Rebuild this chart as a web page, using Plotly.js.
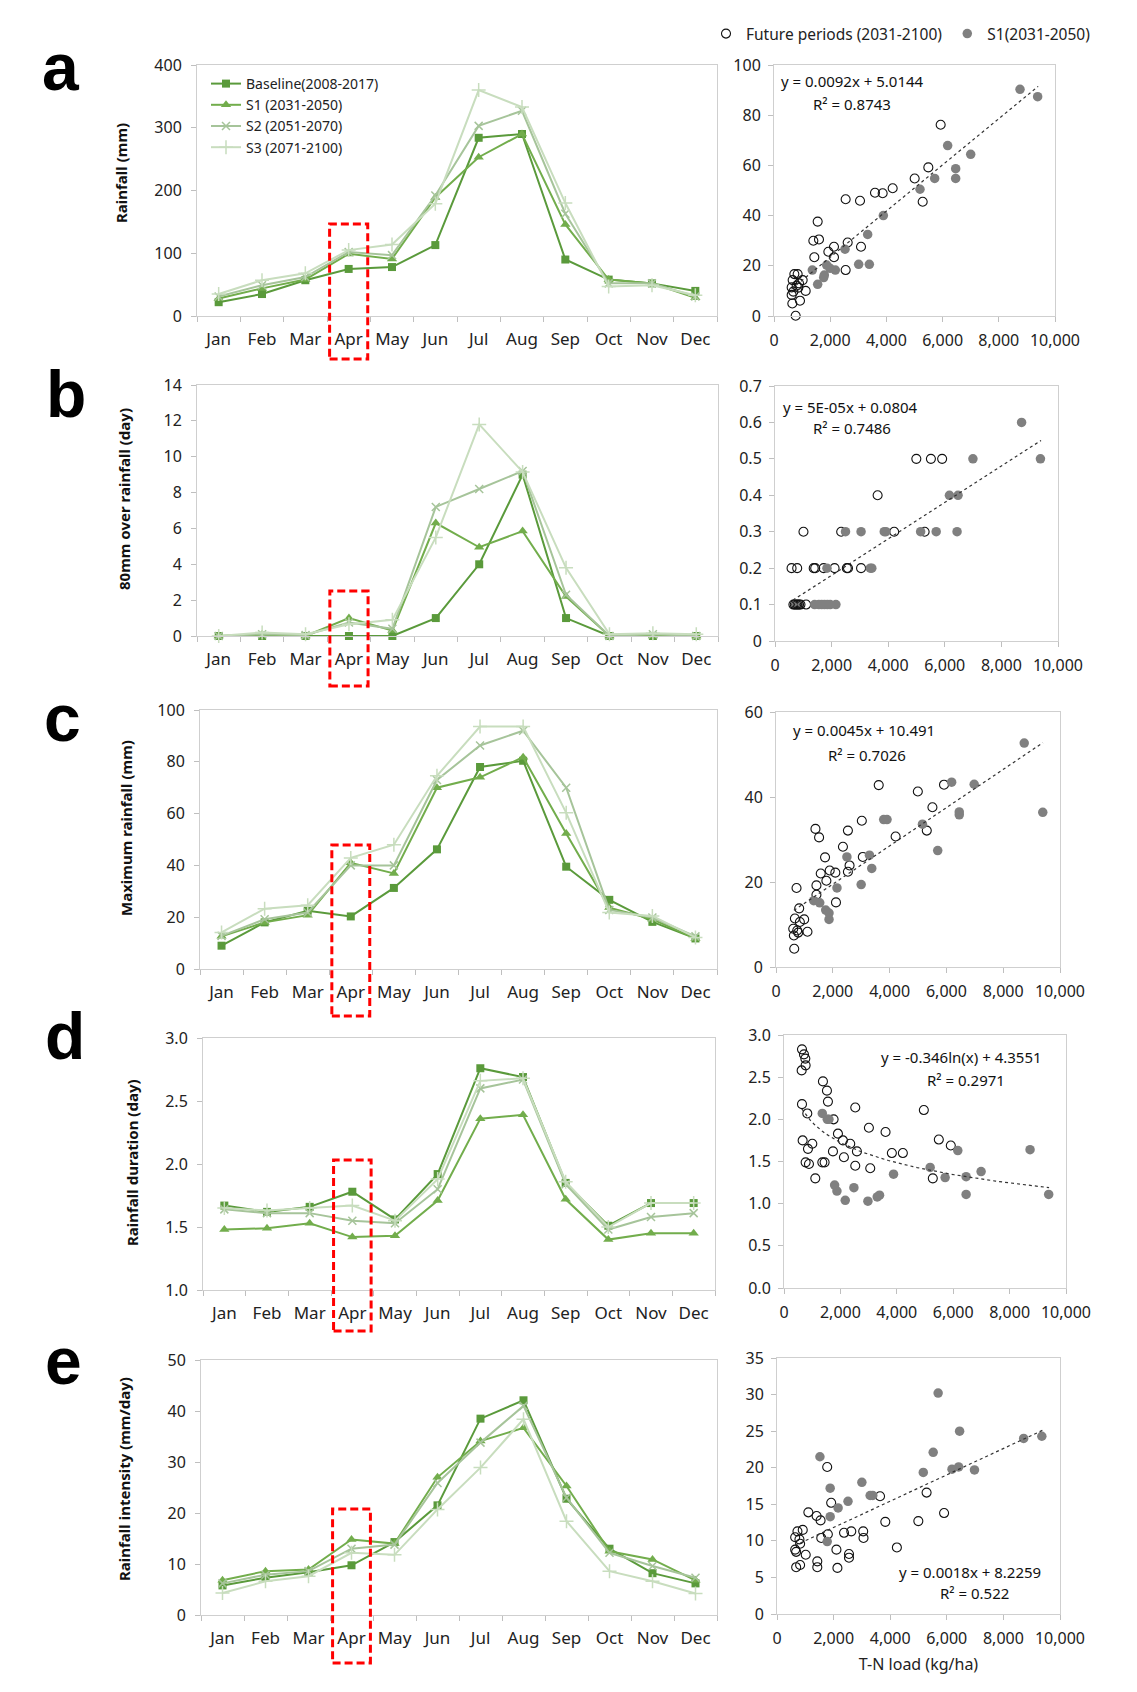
<!DOCTYPE html>
<html><head><meta charset="utf-8">
<script src="https://cdn.plot.ly/plotly-3.0.1.min.js"></script>
<style>html,body{margin:0;padding:0;background:#fff;} #chart{width:1137px;height:1692px;}</style>
</head><body><div id="chart"></div>
<script>
// ---------------- DATA ----------------
const months = ['Jan','Feb','Mar','Apr','May','Jun','Jul','Aug','Sep','Oct','Nov','Dec'];
const seriesNames = ['Baseline(2008-2017)','S1 (2031-2050)','S2 (2051-2070)','S3 (2071-2100)'];

// a: Rainfall (mm)
const aBase = [22,35,57,75,78,113,284,290,90,58,52,40];
const aS1   = [28,44,58,99,91,189,253,290,146,58,52,29];
const aS2   = [31,49,62,102,97,192,303,327,163,52,52,31];
const aS3   = [35,57,68,105,114,179,360,333,180,47,49,33];
// b: 80mm over rainfall (day)
const bBase = [0,0,0,0,0,1.0,4.0,9.0,1.0,0,0,0];
const bS1   = [0,0.1,0,1.0,0.3,6.3,4.95,5.85,2.2,0,0,0];
const bS2   = [0,0.1,0.05,0.75,0.4,7.2,8.2,9.2,2.3,0,0.1,0];
const bS3   = [0,0.2,0.1,0.65,0.9,5.5,11.8,9.15,3.8,0.1,0.15,0.1];
// c: Maximum rainfall (mm)
const cBase = [9.0,18.0,22.5,20.3,31.3,46.2,78.0,80.4,39.5,26.7,18.2,11.8];
const cS1   = [12.6,18.0,20.8,41.0,36.9,70.0,74.0,81.8,52.3,23.7,19.2,11.8];
const cS2   = [12.8,19.2,21.8,40.0,40.0,73.0,86.3,92.0,70.0,22.8,19.9,12.6];
const cS3   = [14.1,23.3,24.6,42.9,48.0,74.6,93.6,93.6,60.3,21.8,20.5,12.2];
// d: Rainfall duration (day)
const dBase = [1.67,1.62,1.66,1.78,1.56,1.92,2.76,2.69,1.85,1.51,1.69,1.69];
const dS1   = [1.48,1.49,1.53,1.42,1.43,1.71,2.36,2.39,1.72,1.40,1.45,1.45];
const dS2   = [1.64,1.61,1.61,1.55,1.53,1.80,2.60,2.67,1.84,1.48,1.58,1.61];
const dS3   = [1.65,1.63,1.65,1.67,1.55,1.88,2.66,2.68,1.86,1.50,1.69,1.69];
// e: Rainfall intensity (mm/day)
const eBase = [5.8,7.3,8.4,9.75,14.3,21.5,38.5,42.1,22.8,13.0,8.2,6.2];
const eS1   = [6.8,8.6,8.9,14.8,14.0,27.0,34.1,36.7,25.3,12.5,10.9,6.8];
const eS2   = [6.2,7.9,8.6,13.0,13.8,25.9,33.8,41.0,23.0,12.2,9.6,7.3];
const eS3   = [4.3,6.6,7.6,12.2,11.8,20.7,28.9,38.4,18.4,8.6,6.6,4.2];

// scatter: T-N load (kg/ha) vs indicator; open = future periods, filled = S1
const aOpenX = [5931,5492,5006,5291,4223,3867,3594,3061,2550,3096,2622,2550,2135,2135,1934,1554,1601,1400,1435,1127,925,1020,842,724,664,807,866,629,688,629,652,771,890];
const aOpenY = [76.2,59.2,54.8,45.5,50.9,48.9,49.1,45.9,46.5,27.6,29.3,18.3,27.6,23.4,25.6,37.6,30.5,30.0,23.4,10.0,6.1,14.3,16.7,16.7,14.3,12.1,11.3,11.4,9.7,8.4,5.0,0.1,13.0];
const aS1X = [8755,9383,6180,7000,6465,6465,5718,5196,3891,3333,2527,3393,3013,2183,1874,1791,1768,1554,1364,1993];
const aS1Y = [90.3,87.4,67.9,64.4,58.7,54.8,54.8,50.5,40.0,32.5,26.6,20.6,20.6,18.3,20.3,16.3,15.3,12.6,18.3,19.0];

const bOpenX = [4994,5509,5906,3626,1006,2339,4211,5287,585,784,1368,1420,1719,2105,2538,2580,3041,650,700,750,800,850,900,1100];
const bOpenY = [0.5,0.5,0.5,0.4,0.3,0.3,0.3,0.3,0.2,0.2,0.2,0.2,0.2,0.2,0.2,0.2,0.2,0.1,0.1,0.1,0.1,0.1,0.1,0.1];
const bS1X = [8713,9380,6994,6164,6468,6433,5696,5146,3860,3920,3041,2491,3368,3420,1836,2152,1400,1550,1650,1750,1850,1950];
const bS1Y = [0.6,0.5,0.5,0.4,0.4,0.3,0.3,0.3,0.3,0.3,0.3,0.3,0.2,0.2,0.2,0.1,0.1,0.1,0.1,0.1,0.1,0.1];

const cOpenX = [3617,4994,5916,5508,5309,4212,3022,2532,1389,1517,2357,1727,3057,2590,2532,1890,1575,2089,1774,1424,1424,723,2112,817,665,992,840,607,747,1108,630,782,642];
const cOpenY = [42.8,41.3,42.9,37.6,32.1,30.7,34.4,32.1,32.5,30.5,28.3,25.8,25.9,23.9,22.4,22.7,22.0,22.2,20.3,19.2,17.0,18.6,15.2,13.8,11.4,11.2,10.6,9.0,8.6,8.3,7.4,8.1,4.3];
const cS1X = [8740,9393,6184,6978,6453,6453,5694,5158,3792,3909,3291,3372,2497,2999,2147,1330,1540,1750,1867,1867];
const cS1Y = [52.7,36.4,43.5,43.0,36.5,35.8,27.4,33.6,34.7,34.7,26.3,23.2,25.9,19.4,18.6,15.6,15.1,13.4,12.7,11.2];

const dOpenX = [638,708,756,767,626,1381,1523,1558,638,826,1759,2527,4959,3011,3601,1913,2090,2349,5490,5915,661,1004,850,1736,2586,3825,4215,767,885,1358,1440,2125,2527,3058,1110,5277];
const dOpenY = [2.83,2.77,2.72,2.64,2.58,2.45,2.34,2.21,2.18,2.07,2.00,2.14,2.11,1.90,1.85,1.83,1.75,1.71,1.76,1.69,1.75,1.71,1.65,1.62,1.62,1.60,1.60,1.49,1.47,1.49,1.49,1.55,1.45,1.42,1.30,1.30];
const dS1X = [8725,9386,6163,6989,6458,6458,5714,5183,3884,3388,3306,2975,2479,2172,1877,1795,1358,1535,1594];
const dS1Y = [1.64,1.11,1.63,1.38,1.32,1.11,1.31,1.43,1.35,1.10,1.08,1.03,1.19,1.04,1.15,1.22,2.07,2.00,2.00];

const eOpenX = [1774,1914,3641,5286,5904,4994,3827,1108,1400,1540,910,723,642,793,817,1564,1797,2369,2625,3046,3057,1015,2100,642,677,2544,2544,4236,1424,1424,817,677,2135];
const eOpenY = [20.1,15.2,16.1,16.6,13.8,12.7,12.6,13.9,13.4,12.8,11.5,11.3,10.5,10.2,9.6,10.4,10.9,11.1,11.3,11.3,10.4,8.1,8.8,8.8,8.5,8.2,7.7,9.1,7.2,6.4,6.7,6.4,6.3];
const eS1X = [5694,6453,8716,9358,5519,5169,6184,6418,6978,1517,1879,2999,3291,3384,2509,2159,1879,1774];
const eS1Y = [30.2,25.0,24.0,24.3,22.1,19.35,19.8,20.1,19.7,21.5,17.2,18.0,16.2,16.2,15.4,14.5,13.3,9.9];

// trend lines (from the equations printed on the chart)
const trendSlope = [0.0092, 0.00005, 0.0045, -0.346, 0.0018];
const trendIntercept = [5.0144, 0.0804, 10.491, 4.3551, 8.2259];
const trendType = ['linear','linear','linear','log','linear'];
const trendXRange = [630, 9400];
const eqText = ['y = 0.0092x + 5.0144','y = 5E-05x + 0.0804','y = 0.0045x + 10.491','y = -0.346ln(x) + 4.3551','y = 0.0018x + 8.2259'];
const r2Text = ['R² = 0.8743','R² = 0.7486','R² = 0.7026','R² = 0.2971','R² = 0.522'];

const lineYTitles = ['Rainfall (mm)','80mm over rainfall (day)','Maximum rainfall (mm)','Rainfall duration (day)','Rainfall intensity (mm/day)'];
const panelLetters = ['a','b','c','d','e'];
const scatterXTitle = 'T-N load (kg/ha)';
const legendOpen = 'Future periods (2031-2100)';
const legendS1 = 'S1(2031-2050)';

// ---------------- LAYOUT / STYLE ----------------
const W = 1137, H = 1692;
const FONT = 'Noto Sans, Liberation Sans, Arial, sans-serif';
const linePlots = [[197,717,65,316],[197,718,385,636],[200,717,710,969],[203,715,1038,1290],[201,717,1360,1615]];
const scatPlots = [[774,1055,65,316],[775,1058,386,641],[776,1060,712,967],[784,1066,1035,1288],[777,1060,1358,1614]];
const lineYRange = [[0,400,100],[0,14,2],[0,100,20],[1,3,0.5],[0,50,10]];
const scatYRange = [[0,100,20],[0,0.7,0.1],[0,60,20],[0,3,0.5],[0,35,5]];
const yFmt = [null,null,null,'.1f',null];
const lineColors = ['#5A9A3B','#72AD4C','#A6C49A','#C8DDBE'];
const markerSyms = ['square','triangle-up','x-thin-open','cross-thin-open'];
const markerSizes = [8,9,8,10];
const lineWidths = [2,2,2,2];
const titlePos = [[121,173],[124,499],[126,828],[132,1163],[124,1479]];
const letterPos = [[61,67],[66,394],[62,718],[65,1036],[63,1361]];
const eqPos = [[[779,81],[811,104]],[[781,407],[811,428]],[[791,730],[826,755]],[[879,1057],[925,1080]],[[897,1572],[938,1593]]];
const rectY = [[224,359],[591,686],[845,1016],[1160,1331],[1509,1663]];

const lineData = [[aBase,aS1,aS2,aS3],[bBase,bS1,bS2,bS3],[cBase,cS1,cS2,cS3],[dBase,dS1,dS2,dS3],[eBase,eS1,eS2,eS3]];
const scatData = [[aOpenX,aOpenY,aS1X,aS1Y],[bOpenX,bOpenY,bS1X,bS1Y],[cOpenX,cOpenY,cS1X,cS1Y],[dOpenX,dOpenY,dS1X,dS1Y],[eOpenX,eOpenY,eS1X,eS1Y]];

const fx = px => px / W;
const fy = py => 1 - py / H;
const axName = (c, n) => n === 1 ? c + 'axis' : c + 'axis' + n;
const axRef = (c, n) => n === 1 ? c : c + n;

const traces = [];
const layout = {
  width: W, height: H,
  margin: {l:0, r:0, t:0, b:0},
  paper_bgcolor: '#fff', plot_bgcolor: '#fff',
  font: {family: FONT, size: 16, color: '#222'},
  showlegend: true,
  legend: {x: fx(206), y: fy(68), xanchor: 'left', yanchor: 'top', bgcolor: 'rgba(0,0,0,0)',
           font: {size: 14, family: FONT, color: '#222'}, itemwidth: 30, tracegroupgap: 0},
  legend2: {x: fx(706), y: fy(34), xanchor: 'left', yanchor: 'middle', orientation: 'h', bgcolor: 'rgba(0,0,0,0)',
            font: {size: 15.5, family: FONT, color: '#222'}, itemwidth: 30},
  annotations: [], shapes: []
};

const axisBase = {showline: true, mirror: true, linecolor: '#CFCFCF', linewidth: 1, showgrid: false, zeroline: false,
  ticks: 'outside', ticklen: 5, tickcolor: '#BFBFBF', tickfont: {size: 16, family: FONT, color: '#222'}, fixedrange: true};

for (let i = 0; i < 5; i++) {
  const nL = 2*i + 1, nS = 2*i + 2;
  const lp = linePlots[i], sp = scatPlots[i];
  // line axes
  layout[axName('x', nL)] = Object.assign({}, axisBase, {
    domain: [fx(lp[0]), fx(lp[1])], anchor: axRef('y', nL), type: 'category',
    range: [-0.5, 11.5], tickson: 'boundaries', tickvals: months, ticktext: months, tickangle: 0,
    ticklabelstandoff: 8, tickfont: {size: 17, family: FONT, color: '#222'}});
  layout[axName('y', nL)] = Object.assign({}, axisBase, {
    domain: [fy(lp[3]), fy(lp[2])], anchor: axRef('x', nL),
    range: [lineYRange[i][0], lineYRange[i][1]], dtick: lineYRange[i][2], tick0: lineYRange[i][0],
    tickformat: yFmt[i] || undefined, ticklabelstandoff: 6});
  // scatter axes
  layout[axName('x', nS)] = Object.assign({}, axisBase, {
    domain: [fx(sp[0]), fx(sp[1])], anchor: axRef('y', nS), tickangle: 0,
    range: [0, 10000], dtick: 2000, tickformat: ',d', ticklabelstandoff: 5,
    title: i === 4 ? {text: scatterXTitle, font: {size: 16, family: FONT, color: '#222'}, standoff: 10} : undefined});
  layout[axName('y', nS)] = Object.assign({}, axisBase, {
    domain: [fy(sp[3]), fy(sp[2])], anchor: axRef('x', nS),
    range: [scatYRange[i][0], scatYRange[i][1]], dtick: scatYRange[i][2], tickformat: yFmt[i] || undefined,
    ticklabelstandoff: 4});

  // line traces
  lineData[i].forEach((ys, k) => {
    traces.push({
      type: 'scatter', mode: 'lines+markers', x: months, y: ys, name: seriesNames[k],
      xaxis: axRef('x', nL), yaxis: axRef('y', nL), cliponaxis: false,
      showlegend: i === 0, legend: 'legend',
      line: {color: lineColors[k], width: lineWidths[k]},
      marker: {symbol: markerSyms[k], size: markerSizes[k], color: lineColors[k],
               line: {color: lineColors[k], width: k >= 2 ? 1.5 : 0}}
    });
  });

  // trend line
  const tx = [], ty = [];
  if (trendType[i] === 'log') {
    const n = 60;
    for (let j = 0; j <= n; j++) {
      const x = trendXRange[0] + (trendXRange[1] - trendXRange[0]) * j / n;
      tx.push(x); ty.push(trendSlope[i] * Math.log(x) + trendIntercept[i]);
    }
  } else {
    trendXRange.forEach(x => { tx.push(x); ty.push(trendSlope[i] * x + trendIntercept[i]); });
  }
  const [ox, oy, sx, sy] = scatData[i];
  traces.push({type: 'scatter', mode: 'markers', x: ox, y: oy, name: legendOpen,
    xaxis: axRef('x', nS), yaxis: axRef('y', nS), cliponaxis: false, showlegend: i === 0, legend: 'legend2',
    marker: {symbol: 'circle-open', size: 9, color: '#111', line: {width: 1.1, color: '#111'}}});
  traces.push({type: 'scatter', mode: 'markers', x: sx, y: sy, name: legendS1,
    xaxis: axRef('x', nS), yaxis: axRef('y', nS), cliponaxis: false, showlegend: i === 0, legend: 'legend2',
    marker: {symbol: 'circle', size: 9.5, color: '#808080', line: {width: 0}}});
  traces.push({type: 'scatter', mode: 'lines', x: tx, y: ty, showlegend: false, hoverinfo: 'skip',
    xaxis: axRef('x', nS), yaxis: axRef('y', nS),
    line: {color: '#333', width: 1.2, dash: '3px,3px'}});

  // annotations
  layout.annotations.push({xref: 'paper', yref: 'paper', x: fx(titlePos[i][0]), y: fy(titlePos[i][1]),
    text: '<b>' + lineYTitles[i] + '</b>', textangle: -90, showarrow: false, xanchor: 'center', yanchor: 'middle',
    font: {size: 15, family: FONT, color: '#111'}});
  layout.annotations.push({xref: 'paper', yref: 'paper', x: fx(letterPos[i][0]), y: fy(letterPos[i][1]),
    text: '<b>' + panelLetters[i] + '</b>', showarrow: false, xanchor: 'center', yanchor: 'middle',
    font: {size: 66, family: 'Liberation Sans Narrow, Liberation Sans, Arial, sans-serif', color: '#000'}});
  layout.annotations.push({xref: 'paper', yref: 'paper', x: fx(eqPos[i][0][0]), y: fy(eqPos[i][0][1]),
    text: eqText[i], showarrow: false, xanchor: 'left', yanchor: 'middle', font: {size: 15, family: FONT, color: '#111'}});
  layout.annotations.push({xref: 'paper', yref: 'paper', x: fx(eqPos[i][1][0]), y: fy(eqPos[i][1][1]),
    text: r2Text[i], showarrow: false, xanchor: 'left', yanchor: 'middle', font: {size: 15, family: FONT, color: '#111'}});

  // red dashed box around April
  layout.shapes.push({type: 'rect', xref: axRef('x', nL), yref: 'paper', x0: 2.56, x1: 3.44,
    y0: fy(rectY[i][1]), y1: fy(rectY[i][0]), layer: 'above',
    line: {color: '#FF0000', width: 3, dash: '8px,4px'}});
}

Plotly.newPlot('chart', traces, layout, {staticPlot: true, displayModeBar: false});
</script>
</body></html>
